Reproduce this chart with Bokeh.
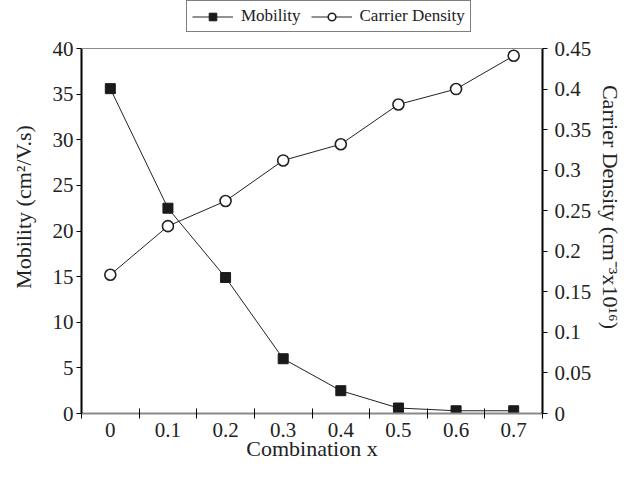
from bokeh.plotting import figure
from bokeh.models import (Range1d, LinearAxis, FixedTicker, Span,
                          NumeralTickFormatter, Legend, LegendItem, ColumnDataSource)
from bokeh.embed import file_html
from bokeh.resources import INLINE

# ---- data ----
x_labels = ["0", "0.1", "0.2", "0.3", "0.4", "0.5", "0.6", "0.7"]
mobility = [35.6, 22.5, 14.9, 6.0, 2.5, 0.6, 0.3, 0.3]
carrier_density = [0.171, 0.231, 0.262, 0.312, 0.332, 0.381, 0.400, 0.441]
mobility_ticks = [0, 5, 10, 15, 20, 25, 30, 35, 40]
density_ticks = [0, 0.05, 0.1, 0.15, 0.2, 0.25, 0.3, 0.35, 0.4, 0.45]
mob_max = 40
cd_max = 0.45

n = len(x_labels)
centers = [i + 0.5 for i in range(n)]
bounds = [float(i) for i in range(n + 1)]

src = ColumnDataSource(dict(x=centers, mob=mobility, cd=carrier_density))

FONT = "Liberation Serif"

# layout (pixels)
W, H = 626, 465
BL, BR, BB = 81, 80, 52
FRAME_H = H - BB
TOP_PAD = 48          # free space above the plot area (holds the legend)
scale_top = FRAME_H / (FRAME_H - TOP_PAD)

p = figure(width=W, height=H, output_backend="svg", toolbar_location=None,
           x_range=Range1d(0, n), y_range=Range1d(0, mob_max * scale_top),
           min_border_left=BL, min_border_right=BR, min_border_top=0, min_border_bottom=BB,
           x_axis_label="Combination x", y_axis_label="Mobility (cm²/V.s)")
p.extra_y_ranges = {"cd": Range1d(0, cd_max * scale_top)}
p.xgrid.visible = False
p.ygrid.visible = False
p.outline_line_color = None
p.background_fill_color = "white"
p.border_fill_color = "white"

# top border of the plot area
p.add_layout(Span(location=mob_max, dimension="width", line_color="#8a8a8a", line_width=1))

# x axis
xa = p.xaxis[0]
xa.ticker = FixedTicker(ticks=centers, minor_ticks=bounds)
xa.major_label_overrides = {c: lab for c, lab in zip(centers, x_labels)}
xa.major_tick_out = 0
xa.major_tick_in = 0
xa.minor_tick_in = 5
xa.minor_tick_out = 5
xa.minor_tick_line_color = "black"
xa.axis_line_color = "#8a8a8a"
xa.axis_line_width = 2
xa.major_label_standoff = 4
xa.axis_label_standoff = -4

# left axis
ya = p.yaxis[0]
ya.bounds = (0, mob_max)
ya.ticker = FixedTicker(ticks=mobility_ticks)
ya.major_tick_out = 5
ya.major_tick_in = 0
ya.minor_tick_out = 0
ya.minor_tick_in = 0
ya.axis_line_color = "black"
ya.axis_line_width = 2
ya.major_label_standoff = 3
ya.axis_label_standoff = 14

# right axis
ra = LinearAxis(y_range_name="cd", axis_label="Carrier Density (cm⁻³x10¹⁶)")
ra.bounds = (0, cd_max)
ra.ticker = FixedTicker(ticks=density_ticks)
ra.formatter = NumeralTickFormatter(format="0.[00]")
ra.major_tick_out = 5
ra.major_tick_in = 0
ra.minor_tick_out = 0
ra.minor_tick_in = 0
ra.axis_line_color = "black"
ra.axis_line_width = 2
ra.major_label_standoff = 7
ra.axis_label_standoff = 4
p.add_layout(ra, "right")

for ax in (xa, ya, ra):
    ax.major_label_text_font = FONT
    ax.major_label_text_font_size = "21px"
    ax.major_label_text_color = "#222222"
    ax.axis_label_text_font = FONT
    ax.axis_label_text_font_size = "22px"
    ax.axis_label_text_font_style = "normal"
    ax.axis_label_text_color = "#222222"
    ax.major_tick_line_color = "black"

# series
l1 = p.line("x", "mob", source=src, line_color="#222222", line_width=1)
s1 = p.scatter("x", "mob", source=src, marker="square", size=10,
               fill_color="#1a1a1a", line_color="#1a1a1a")
l2 = p.line("x", "cd", source=src, y_range_name="cd", line_color="#222222", line_width=1)
s2 = p.scatter("x", "cd", source=src, y_range_name="cd", marker="circle", size=11,
               fill_color="white", line_color="#222222", line_width=1.6)

legend = Legend(items=[LegendItem(label="Mobility", renderers=[l1, s1]),
                       LegendItem(label="Carrier Density", renderers=[l2, s2])],
                orientation="horizontal", location=(105, FRAME_H - 32),
                label_text_font=FONT, label_text_font_size="17px",
                label_text_color="#222222",
                glyph_width=41, glyph_height=19, label_height=19,
                label_standoff=8, spacing=10, padding=5, margin=0,
                border_line_color="black", border_line_width=1,
                background_fill_color="white", background_fill_alpha=1.0)
p.add_layout(legend, "center")

open("out.html", "w").write(file_html(p, INLINE))
